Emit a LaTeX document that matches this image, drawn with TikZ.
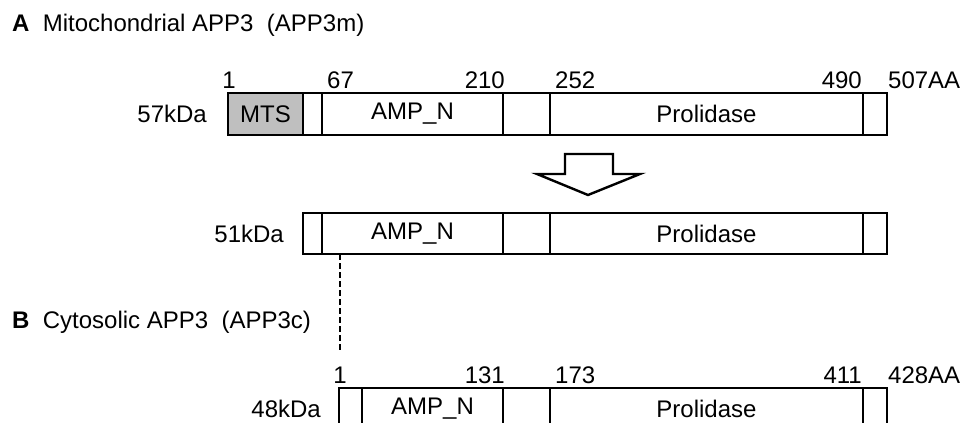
\documentclass[tikz,border=0pt]{standalone}
\usepackage{fontspec}
\setmainfont{Liberation Sans}
\begin{document}
\begin{tikzpicture}[x=.5pt,y=-.5pt,line width=1.2pt,font=\fontsize{12}{14}\selectfont,
  lbl/.style={inner sep=0pt},mw/.style={inner sep=0pt,anchor=east}]
\clip(0,0)rectangle(960,423);
\node[lbl,anchor=base west](titA)at(11,32){\textbf{A}\ \ Mitochondrial APP3\ \ (APP3m)};
\node[lbl,anchor=base west](titB)at(11,328){\textbf{B}\ \ Cytosolic APP3\ \ (APP3c)};
% 57kDa precursor
\draw[fill=black!25](228,93)rectangle(303,135);
\draw(303,93)rectangle(887,135);
\foreach\x in{322,503,550,863}{\draw(\x,93)--(\x,135);}
\node[lbl](mts)at(265.5,114){MTS};
\node[lbl](ampA)at(412.5,114){AMP\_N};
\node[lbl](proA)at(706.5,114){Prolidase};
\node[mw](kdA)at(208,114){57kDa};
\foreach\x/\t/\a[count=\i]in{229/1/base,326/67/base west,506/210/base east,554/252/base west,863/490/base east,887/507AA/base west}{\node[lbl,anchor=\a](nA\i)at(\x,88){\t};}
% processing
\draw(565,154)--(613,154)--(613,174)--(640,174)--(588,195)--(537,174)--(565,174)--cycle;
% 51kDa mature
\draw(303,213)rectangle(887,254);
\foreach\x in{322,503,550,863}{\draw(\x,213)--(\x,254);}
\node[lbl](ampM)at(412.5,233.5){AMP\_N};
\node[lbl](proM)at(706.5,233.5){Prolidase};
\node[mw](kdM)at(285,233.5){51kDa};
\coordinate(P)at(340,254);\coordinate(Q)at(340,350);
\draw[line width=.9pt,dash pattern=on 3pt off 1.5pt](P)--(Q);
% 48kDa cytosolic
\draw(339,388)rectangle(887,429);
\foreach\x in{362,503,550,863}{\draw(\x,388)--(\x,429);}
\node[lbl](ampC)at(432.5,409){AMP\_N};
\node[lbl](proC)at(706.5,409){Prolidase};
\node[mw](kdC)at(322,409){48kDa};
\foreach\x/\t/\a[count=\i]in{340/1/base,506/131/base east,554/173/base west,863/411/base east,887/428AA/base west}{\node[lbl,anchor=\a](nC\i)at(\x,383){\t};}
\end{tikzpicture}
\end{document}
